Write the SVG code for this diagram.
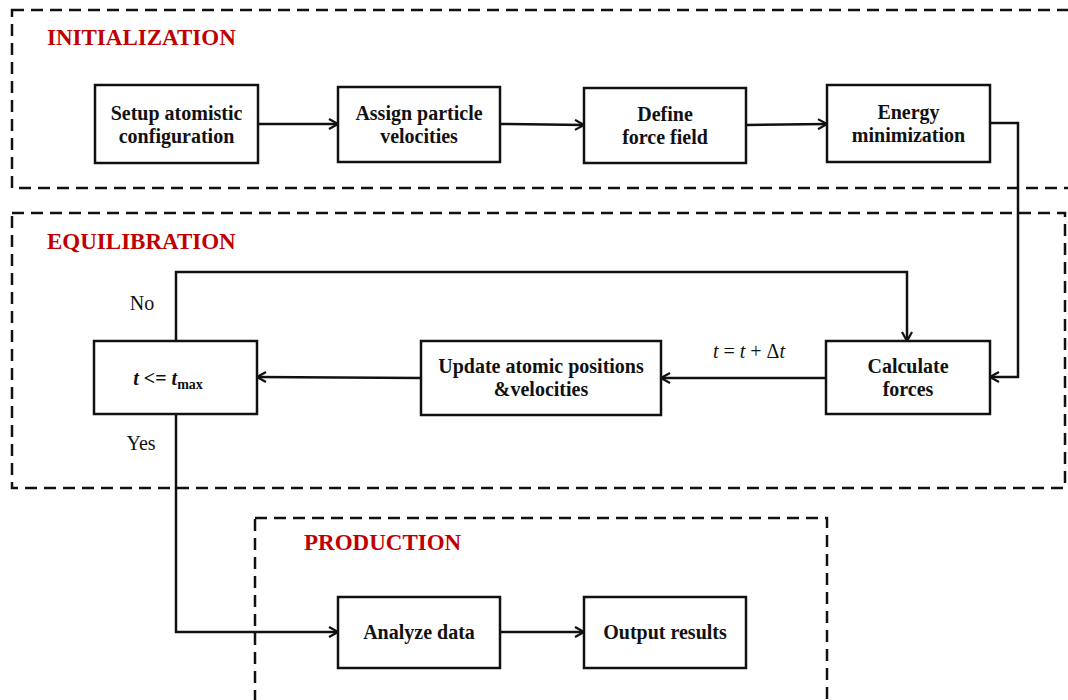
<svg xmlns="http://www.w3.org/2000/svg" width="1068" height="700" viewBox="0 0 1068 700">
<style>
.bg{fill:#fff}
.grp{fill:none;stroke:#111;stroke-width:2.5;stroke-dasharray:12 7}
.box{fill:#fff;stroke:#111;stroke-width:2.5}
.lbl{font-family:"Liberation Serif",serif;font-weight:bold;font-size:20px;fill:#111;text-anchor:middle}
.sec{font-family:"Liberation Serif",serif;font-weight:bold;font-size:23px;fill:#c00000}
.yn{font-family:"Liberation Serif",serif;font-size:20px;fill:#111}
.con{fill:none;stroke:#111;stroke-width:2.5}
</style>
<defs>
<marker id="arr" viewBox="0 0 12 12" refX="11" refY="6" markerWidth="12" markerHeight="12" markerUnits="userSpaceOnUse" orient="auto">
<path d="M2,1 L11,6 L2,11" fill="none" stroke="#111" stroke-width="2.2"/>
</marker>
</defs>
<rect class="bg" width="1068" height="700"/>
<g id="initialization">
<rect class="grp" x="12" y="10" width="1070" height="178"/>
<text class="sec" x="47" y="45">INITIALIZATION</text>
</g>
<g id="equilibration">
<rect class="grp" x="12" y="213" width="1053" height="275"/>
<text class="sec" x="47" y="249">EQUILIBRATION</text>
</g>
<g id="production">
<rect class="grp" x="255" y="518" width="572" height="185"/>
<text class="sec" x="304" y="550">PRODUCTION</text>
</g>
<g id="connectors">
<path class="con" d="M258,124 L338,124" marker-end="url(#arr)"/>
<path class="con" d="M500,124 L584,125" marker-end="url(#arr)"/>
<path class="con" d="M746,125 L827,124" marker-end="url(#arr)"/>
<path class="con" d="M990,123 L1018,123 L1018,377 L990,377" marker-end="url(#arr)"/>
<path class="con" d="M826,378 L661,378" marker-end="url(#arr)"/>
<path class="con" d="M421,378 L257,377" marker-end="url(#arr)"/>
<path class="con" d="M176,341 L176,272 L907,272 L907,341" marker-end="url(#arr)"/>
<path class="con" d="M176,414 L176,632 L338,632" marker-end="url(#arr)"/>
<path class="con" d="M500,632 L584,632" marker-end="url(#arr)"/>
<text class="yn" x="142" y="310" text-anchor="middle">No</text>
<text class="yn" x="141" y="450" text-anchor="middle">Yes</text>
<text class="yn" x="749" y="358" text-anchor="middle"><tspan font-style="italic">t</tspan> = <tspan font-style="italic">t</tspan> + Δ<tspan font-style="italic">t</tspan></text>
</g>
<g id="setup">
<rect class="box" x="95" y="85" width="163" height="78"/>
<text class="lbl" x="176.5" y="120">Setup atomistic</text>
<text class="lbl" x="176.5" y="143">configuration</text>
</g>
<g id="assign">
<rect class="box" x="338" y="87" width="162" height="75"/>
<text class="lbl" x="419" y="120">Assign particle</text>
<text class="lbl" x="419" y="143">velocities</text>
</g>
<g id="define">
<rect class="box" x="584" y="88" width="162" height="75"/>
<text class="lbl" x="665" y="121">Define</text>
<text class="lbl" x="665" y="144">force field</text>
</g>
<g id="energy">
<rect class="box" x="827" y="85" width="163" height="77"/>
<text class="lbl" x="908.5" y="119">Energy</text>
<text class="lbl" x="908.5" y="142">minimization</text>
</g>
<g id="calculate">
<rect class="box" x="826" y="341" width="164" height="73"/>
<text class="lbl" x="908" y="373">Calculate</text>
<text class="lbl" x="908" y="396">forces</text>
</g>
<g id="update">
<rect class="box" x="421" y="341" width="240" height="74"/>
<text class="lbl" x="541" y="373">Update atomic positions</text>
<text class="lbl" x="541" y="396">&amp;velocities</text>
</g>
<g id="check">
<rect class="box" x="94" y="341" width="163" height="73"/>
<text class="lbl" x="168" y="385"><tspan font-style="italic">t</tspan> &lt;= <tspan font-style="italic">t</tspan><tspan font-size="14" dy="4">max</tspan></text>
</g>
<g id="analyze">
<rect class="box" x="338" y="597" width="162" height="71"/>
<text class="lbl" x="419" y="639">Analyze data</text>
</g>
<g id="output">
<rect class="box" x="584" y="597" width="162" height="71"/>
<text class="lbl" x="665" y="639">Output results</text>
</g>
</svg>
